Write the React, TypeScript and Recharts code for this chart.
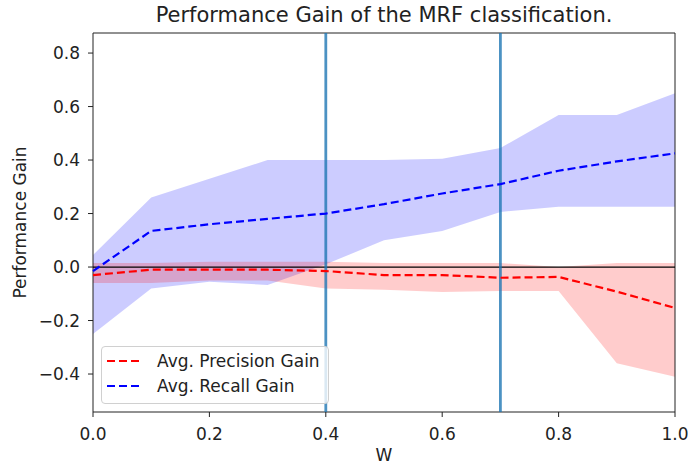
import React from "react"
import {
  ComposedChart,
  Area,
  Line,
  XAxis,
  YAxis,
  ReferenceLine,
  ReferenceArea,
  Legend,
} from "recharts"

const weights = [0, 0.1, 0.2, 0.3, 0.4, 0.5, 0.6, 0.7, 0.8, 0.9, 1.0]

const precisionMean = [-0.03, -0.01, -0.01, -0.01, -0.015, -0.03, -0.03, -0.04, -0.037, -0.092, -0.153]
const precisionLow = [-0.06, -0.06, -0.05, -0.05, -0.08, -0.085, -0.093, -0.09, -0.09, -0.36, -0.41]
const precisionHigh = [0.015, 0.015, 0.02, 0.02, 0.02, 0.015, 0.015, 0.015, 0.0, 0.015, 0.015]

const recallMean = [-0.015, 0.135, 0.16, 0.18, 0.2, 0.235, 0.275, 0.31, 0.36, 0.395, 0.425]
const recallLow = [-0.25, -0.08, -0.055, -0.067, 0.01, 0.1, 0.135, 0.206, 0.225, 0.225, 0.225]
const recallHigh = [0.045, 0.26, 0.33, 0.4, 0.4, 0.4, 0.405, 0.445, 0.568, 0.568, 0.65]

const xTicks = [0, 0.2, 0.4, 0.6, 0.8, 1.0]
const yTicks = [-0.4, -0.2, 0, 0.2, 0.4, 0.6, 0.8]
const markers = [0.4, 0.7]

const Y_MIN = -0.542
const Y_MAX = 0.875

const data = weights.map((w, i) => ({
  w,
  precision: precisionMean[i],
  precisionBand: [precisionLow[i], precisionHigh[i]],
  recall: recallMean[i],
  recallBand: [recallLow[i], recallHigh[i]],
}))

const font = "'DejaVu Sans', sans-serif"
const fmt = (v: number) => (v < 0 ? "\u2212" + Math.abs(v).toFixed(1) : v.toFixed(1))

function LegendBox({ payload }: any) {
  const items = (payload || []).filter((p: any) => p.type !== "none")
  return (
    <div
      style={{
        background: "rgba(255,255,255,0.8)",
        border: "1px solid #d0d0d0",
        borderRadius: 4,
        padding: "1px 8px 5px 5px",
        fontFamily: font,
        fontSize: 17,
        color: "#222",
        whiteSpace: "nowrap",
      }}
    >
      {items.map((p: any) => (
        <div key={p.value} style={{ display: "flex", alignItems: "center", height: 25 }}>
          <svg width={36} height={6} style={{ marginRight: 14, flex: "none" }}>
            <line x1={0} y1={3} x2={36} y2={3} stroke={p.color} strokeWidth={2.2} strokeDasharray="8 4" />
          </svg>
          <span>{p.value}</span>
        </div>
      ))}
    </div>
  )
}

export default function App() {
  return (
    <div style={{ position: "absolute", left: 0, top: 0, width: 688, height: 466, background: "#fff" }}>
      <div
        style={{
          position: "absolute",
          left: 93,
          width: 582,
          top: 3,
          textAlign: "center",
          fontFamily: font,
          fontSize: 21,
          color: "#222",
          whiteSpace: "nowrap",
        }}
      >
        Performance Gain of the MRF classification.
      </div>
      <ComposedChart
        width={688}
        height={466}
        data={data}
        margin={{ top: 33, right: 13, bottom: 0, left: 0 }}
      >
        <XAxis
          dataKey="w"
          type="number"
          domain={[0, 1]}
          ticks={xTicks}
          tickFormatter={fmt}
          height={54}
          tickSize={5}
          tickMargin={11}
          axisLine={false}
          tickLine={{ stroke: "#222" }}
          tick={{ fill: "#222", fontSize: 17, fontFamily: font }}
          label={{ value: "W", position: "insideBottom", offset: 5, fill: "#222", fontSize: 17, fontFamily: font }}
        />
        <YAxis
          type="number"
          domain={[Y_MIN, Y_MAX]}
          allowDataOverflow
          ticks={yTicks}
          tickFormatter={fmt}
          width={93}
          tickSize={5}
          tickMargin={8}
          axisLine={false}
          tickLine={{ stroke: "#222" }}
          tick={{ fill: "#222", fontSize: 17, fontFamily: font }}
          label={{
            value: "Performance Gain",
            angle: -90,
            position: "insideLeft",
            offset: 20,
            style: { textAnchor: "middle" },
            fill: "#222",
            fontSize: 17,
            fontFamily: font,
          }}
        />
        <Area
          dataKey="recallBand"
          type="linear"
          stroke="none"
          fill="#0000ff"
          fillOpacity={0.2}
          legendType="none"
          isAnimationActive={false}
          activeDot={false}
        />
        <Area
          dataKey="precisionBand"
          type="linear"
          stroke="none"
          fill="#ff0000"
          fillOpacity={0.2}
          legendType="none"
          isAnimationActive={false}
          activeDot={false}
        />
        <ReferenceLine y={0} stroke="#000" strokeWidth={1.2} />
        {markers.map((m) => (
          <ReferenceLine key={m} x={m} stroke="#1f77b4" strokeOpacity={0.8} strokeWidth={2.8} />
        ))}
        <Line
          dataKey="precision"
          name="Avg. Precision Gain"
          type="linear"
          stroke="#ff0000"
          strokeWidth={2.2}
          strokeDasharray="8 4"
          dot={false}
          isAnimationActive={false}
        />
        <Line
          dataKey="recall"
          name="Avg. Recall Gain"
          type="linear"
          stroke="#0000ff"
          strokeWidth={2.2}
          strokeDasharray="8 4"
          dot={false}
          isAnimationActive={false}
        />
        <ReferenceArea x1={0} x2={1} y1={Y_MIN} y2={Y_MAX} fill="none" stroke="#222" strokeWidth={1} ifOverflow="visible" />
        <Legend
          layout="horizontal"
          verticalAlign="middle"
          align="center"
          content={<LegendBox />}
          wrapperStyle={{ position: "absolute", left: 101, top: 346, width: "auto", height: "auto" }}
        />
      </ComposedChart>
    </div>
  )
}
